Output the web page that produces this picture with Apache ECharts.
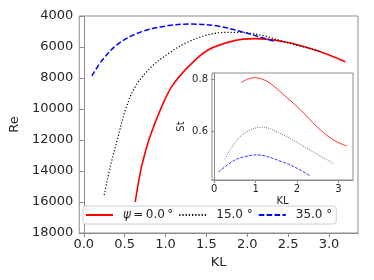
<!DOCTYPE html>
<html><head><meta charset="utf-8">
<script src="https://cdn.jsdelivr.net/npm/echarts@6/dist/echarts.min.js"></script>
<style>html,body{margin:0;padding:0;background:#fff}#c{width:374px;height:280px}</style>
</head><body><div id="c"></div>
<script>
// Main chart: Re vs KL
const legendNames = ['ψ = 0.0 °', '15.0 °', '35.0 °'];
const red_KL  = [0.63, 0.70, 0.79, 0.855, 0.95, 1.076, 1.28, 1.52, 1.845, 2.09, 2.45, 2.86, 3.2];
const red_Re  = [16000, 13900, 12100, 11140, 9900, 8560, 7270, 6190, 5590, 5460, 5660, 6240, 6950];
const blk_KL  = [0.25, 0.33, 0.41, 0.51, 0.63, 0.83, 1.04, 1.28, 1.60, 1.845, 2.17, 2.45, 2.9];
const blk_Re  = [15550, 13600, 12000, 10060, 8560, 7270, 6410, 5660, 5120, 5050, 5230, 5660, 6300];
const blu_KL  = [0.10, 0.227, 0.43, 0.71, 1.04, 1.32, 1.64, 1.93, 2.25, 2.35];
const blu_Re  = [7870, 6840, 5760, 5010, 4620, 4520, 4650, 5010, 5500, 5650];
const mainXTicks = [0, 0.5, 1.0, 1.5, 2.0, 2.5, 3.0];
// Inset: St vs KL
const redI_KL = [0.645, 0.8, 0.99, 1.3, 1.67, 2.08, 2.48, 2.88, 3.2];
const redI_St = [0.787, 0.800, 0.806, 0.790, 0.742, 0.684, 0.619, 0.568, 0.545];
const blkI_KL = [0.266, 0.4, 0.63, 0.85, 1.15, 1.67, 2.32, 2.88];
const blkI_St = [0.497, 0.535, 0.581, 0.605, 0.617, 0.587, 0.529, 0.478];
const bluI_KL = [0.10, 0.47, 0.7, 1.03, 1.67, 2.0, 2.32];
const bluI_St = [0.446, 0.489, 0.503, 0.511, 0.483, 0.460, 0.431];
const insetXTicks = [0, 1, 2, 3];
const insetYTicks = [0.6, 0.8];

const zip = (a, b) => a.map((v, i) => [v, b[i]]);
const FONT = 'DejaVu Sans';
const TXT = '#262626';
const SPINE = '#8c8c8c';

const chart = echarts.init(document.getElementById('c'), null, {renderer: 'canvas'});
chart.setOption({
  animation: false,
  backgroundColor: '#fff',
  grid: [
    {left: 76, top: 16, right: 16, bottom: 47, show: true, borderColor: SPINE, borderWidth: 1, backgroundColor: 'transparent'},
    {left: 212, top: 73, width: 141, height: 107, show: true, borderColor: SPINE, borderWidth: 1, backgroundColor: '#fff', z: 5}
  ],
  xAxis: [
    {type: 'value', gridIndex: 0, min: -0.055, max: 3.355,
     name: 'KL', nameLocation: 'middle', nameGap: 20,
     nameTextStyle: {fontFamily: FONT, fontSize: 13, color: TXT},
     axisLine: {show: true, lineStyle: {color: SPINE}},
     axisTick: {show: true, length: 4, lineStyle: {color: SPINE}, customValues: mainXTicks},
     axisLabel: {fontFamily: FONT, fontSize: 13, color: TXT, margin: 5, customValues: mainXTicks, formatter: v => Number(v).toFixed(1)},
     splitLine: {show: false}},
    {type: 'value', gridIndex: 1, min: -0.055, max: 3.355,
     name: 'KL', nameLocation: 'middle', nameGap: 16,
     nameTextStyle: {fontFamily: FONT, fontSize: 10, color: TXT},
     axisLine: {show: true, lineStyle: {color: SPINE}},
     axisTick: {show: true, length: 3, lineStyle: {color: SPINE}, customValues: insetXTicks},
     axisLabel: {fontFamily: FONT, fontSize: 10, color: TXT, margin: 4, customValues: insetXTicks, showMinLabel: true, formatter: v => String(Math.round(v))},
     splitLine: {show: false}, z: 5}
  ],
  yAxis: [
    {type: 'value', gridIndex: 0, min: 4000, max: 18000, interval: 2000, inverse: true,
     name: 'Re', nameLocation: 'middle', nameGap: 46,
     nameTextStyle: {fontFamily: FONT, fontSize: 13, color: TXT},
     axisLine: {show: true, lineStyle: {color: SPINE}},
     axisTick: {show: true, length: 4, lineStyle: {color: SPINE}},
     axisLabel: {fontFamily: FONT, fontSize: 13, color: TXT, margin: 6, formatter: v => String(v)},
     splitLine: {show: false}},
    {type: 'value', gridIndex: 1, min: 0.415, max: 0.824,
     name: 'St', nameLocation: 'middle', nameGap: 26,
     nameTextStyle: {fontFamily: FONT, fontSize: 10, color: TXT},
     axisLine: {show: true, lineStyle: {color: SPINE}},
     axisTick: {show: true, length: 3, lineStyle: {color: SPINE}, customValues: insetYTicks},
     axisLabel: {fontFamily: FONT, fontSize: 10, color: TXT, margin: 4, customValues: insetYTicks, formatter: v => Number(v).toFixed(1)},
     splitLine: {show: false}, z: 5}
  ],
  legend: {
    data: legendNames,
    left: 83, top: 206, width: 320,
    orient: 'horizontal',
    backgroundColor: '#fff', borderColor: '#d0d0d0', borderWidth: 1, borderRadius: 3,
    padding: [3, 4, 3, 2],
    itemWidth: 27, itemHeight: 14, itemGap: 5,
    itemStyle: {opacity: 0},
    textStyle: {fontFamily: FONT, fontSize: 12, color: TXT, padding: [0, 0, 0, 5],
      rich: {i: {fontFamily: FONT, fontSize: 12, fontStyle: 'italic', color: TXT}}},
    formatter: n => n.indexOf('ψ') === 0 ? '{i|ψ}\u2009=\u20090.0\u2009°' : n,
    z: 10
  },
  series: [
    {name: legendNames[0], type: 'line', xAxisIndex: 0, yAxisIndex: 0, data: zip(red_KL, red_Re),
     smooth: 0.35, symbol: 'none', lineStyle: {color: '#ff0000', width: 1.6, type: 'solid'}, itemStyle: {color: '#ff0000'}},
    {name: legendNames[1], type: 'line', xAxisIndex: 0, yAxisIndex: 0, data: zip(blk_KL, blk_Re),
     smooth: 0.35, symbol: 'none', lineStyle: {color: '#000000', width: 1.2, type: [1.2, 2]}, itemStyle: {color: '#000000'}},
    {name: legendNames[2], type: 'line', xAxisIndex: 0, yAxisIndex: 0, data: zip(blu_KL, blu_Re),
     smooth: 0.35, symbol: 'none', lineStyle: {color: '#0000ff', width: 1.5, type: [5.5, 2.4]}, itemStyle: {color: '#0000ff'}},
    {name: 'inset0', type: 'line', xAxisIndex: 1, yAxisIndex: 1, data: zip(redI_KL, redI_St), z: 6,
     smooth: 0.35, symbol: 'none', lineStyle: {color: '#ff0000', width: 0.8, type: 'solid'}},
    {name: 'inset15', type: 'line', xAxisIndex: 1, yAxisIndex: 1, data: zip(blkI_KL, blkI_St), z: 6,
     smooth: 0.35, symbol: 'none', lineStyle: {color: '#000000', width: 0.7, type: [0.8, 1.4]}},
    {name: 'inset35', type: 'line', xAxisIndex: 1, yAxisIndex: 1, data: zip(bluI_KL, bluI_St), z: 6,
     smooth: 0.35, symbol: 'none', lineStyle: {color: '#0000ff', width: 0.8, type: [3, 1.4]}}
  ]
});
</script>
</body></html>
